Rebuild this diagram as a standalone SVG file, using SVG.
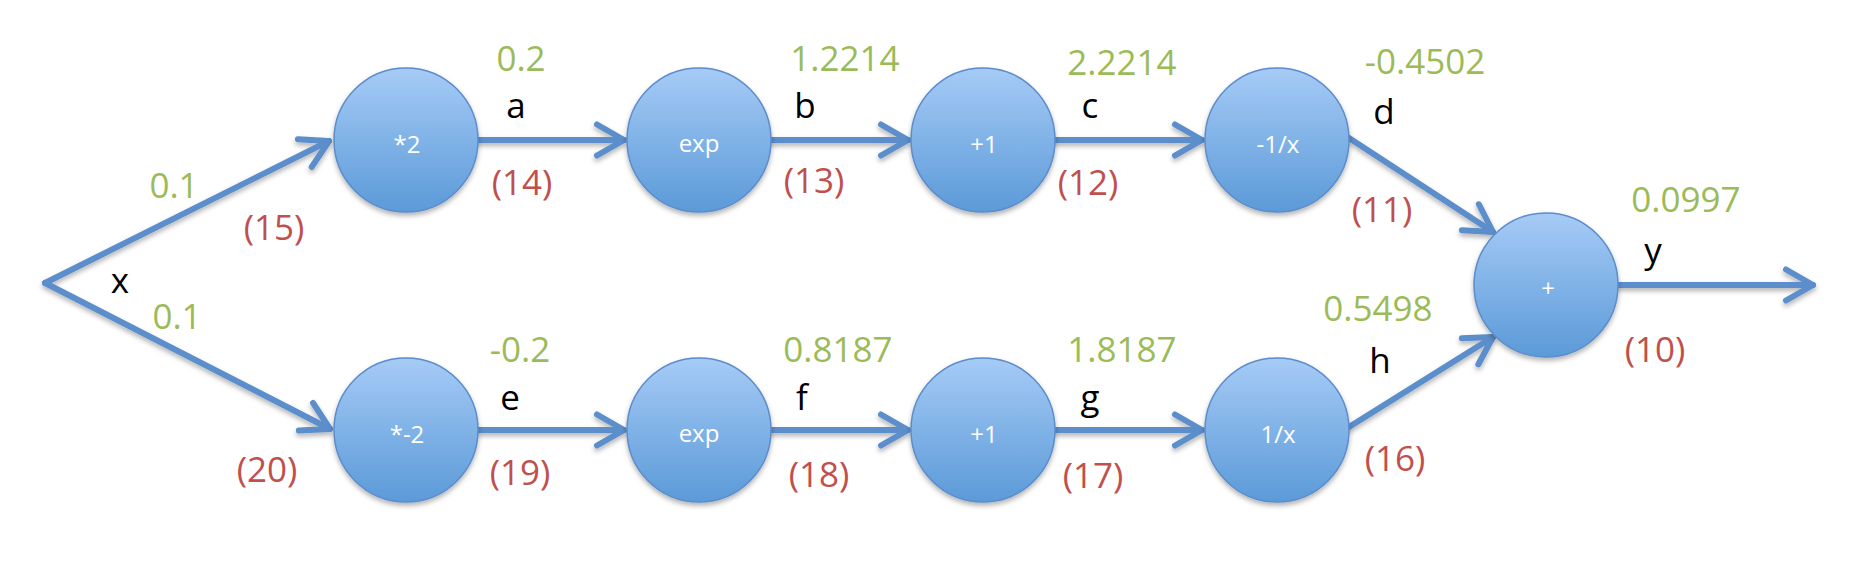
<svg xmlns="http://www.w3.org/2000/svg" width="1868" height="562" viewBox="0 0 1868 562">
  <style>
    .node circle { fill: url(#nodeGrad); stroke: #5b8ccb; stroke-width: 1.5; filter: url(#shadow); }
    .op { font-family: "Open Sans", "Liberation Sans", sans-serif; font-size: 24px; fill: #ffffff; text-anchor: middle; }
    .lbl { font-family: "Open Sans", "Liberation Sans", sans-serif; font-size: 35px; text-anchor: middle; }
    .val { fill: #9bbb59; }
    .var { fill: #000000; }
    .ord { fill: #c0504d; }
    .edge { fill: none; stroke: #5b8ecb; stroke-width: 6; stroke-linecap: round; marker-end: url(#arrow); }
  </style>
  <defs>
    <linearGradient id="nodeGrad" x1="0" y1="0" x2="0" y2="1">
      <stop offset="0" stop-color="#a6cbf6"/>
      <stop offset="1" stop-color="#5b9ad8"/>
    </linearGradient>
    <filter id="shadow" x="-20%" y="-20%" width="140%" height="150%">
      <feDropShadow dx="0" dy="3" stdDeviation="2.5" flood-color="#000000" flood-opacity="0.3"/>
    </filter>
    <marker id="arrow" markerUnits="userSpaceOnUse" viewBox="-34 -22 40 44" markerWidth="40" markerHeight="44" refX="0" refY="0" orient="auto">
      <path d="M -27,-15.5 L 0,0 L -27,15.5" fill="none" stroke="#5b8ecb" stroke-width="6" stroke-linecap="round" stroke-linejoin="round"/>
    </marker>
  </defs>
  <rect width="1868" height="562" fill="#ffffff"/>

  <g id="connectors" filter="url(#shadow)">
    <path class="edge" d="M45,283 L329,141"/>
    <path class="edge" d="M45,283 L330,429"/>
    <path class="edge" d="M478,140 L624,140"/>
    <path class="edge" d="M771,140 L908,140"/>
    <path class="edge" d="M1055,140 L1202,140"/>
    <path class="edge" d="M478,430 L624,430"/>
    <path class="edge" d="M771,430 L908,430"/>
    <path class="edge" d="M1055,430 L1202,430"/>
    <path class="edge" d="M1349,138 L1493,232"/>
    <path class="edge" d="M1349,427 L1493,337"/>
    <path class="edge" d="M1618,285 L1813,285"/>
  </g>

  <g id="node-mul2" class="node"><circle cx="406" cy="140" r="72"/><text class="op" x="407" y="153">*2</text></g>
  <g id="node-exp1" class="node"><circle cx="699" cy="140" r="72"/><text class="op" x="699" y="152">exp</text></g>
  <g id="node-plus1a" class="node"><circle cx="983" cy="140" r="72"/><text class="op" x="984" y="153">+1</text></g>
  <g id="node-neginv" class="node"><circle cx="1277" cy="140" r="72"/><text class="op" x="1278" y="153">-1/x</text></g>
  <g id="node-mulm2" class="node"><circle cx="406" cy="430" r="72"/><text class="op" x="407" y="443">*-2</text></g>
  <g id="node-exp2" class="node"><circle cx="699" cy="430" r="72"/><text class="op" x="699" y="442">exp</text></g>
  <g id="node-plus1b" class="node"><circle cx="983" cy="430" r="72"/><text class="op" x="984" y="443">+1</text></g>
  <g id="node-inv" class="node"><circle cx="1277" cy="430" r="72"/><text class="op" x="1278" y="443">1/x</text></g>
  <g id="node-sum" class="node"><circle cx="1546" cy="285" r="72"/><text class="op" x="1548" y="297">+</text></g>

  <g id="values" class="lbl val">
    <text x="174" y="198">0.1</text>
    <text x="177" y="329">0.1</text>
    <text x="521" y="71">0.2</text>
    <text x="845" y="71">1.2214</text>
    <text x="1122" y="75">2.2214</text>
    <text x="1425" y="74">-0.4502</text>
    <text x="1686" y="212">0.0997</text>
    <text x="520" y="362">-0.2</text>
    <text x="838" y="362">0.8187</text>
    <text x="1122" y="362">1.8187</text>
    <text x="1378" y="321">0.5498</text>
  </g>
  <g id="variables" class="lbl var">
    <text x="120" y="293">x</text>
    <text x="516" y="118">a</text>
    <text x="805" y="118">b</text>
    <text x="1090" y="118">c</text>
    <text x="1384" y="124">d</text>
    <text x="510" y="410">e</text>
    <text x="802" y="410">f</text>
    <text x="1090" y="410">g</text>
    <text x="1380" y="373">h</text>
    <text x="1653" y="263">y</text>
  </g>
  <g id="order" class="lbl ord">
    <text x="274" y="240">(15)</text>
    <text x="522" y="195">(14)</text>
    <text x="814" y="193">(13)</text>
    <text x="1088" y="195">(12)</text>
    <text x="1382" y="222">(11)</text>
    <text x="1655" y="362">(10)</text>
    <text x="267" y="482">(20)</text>
    <text x="520" y="485">(19)</text>
    <text x="819" y="487">(18)</text>
    <text x="1093" y="488">(17)</text>
    <text x="1395" y="471">(16)</text>
  </g>
</svg>
